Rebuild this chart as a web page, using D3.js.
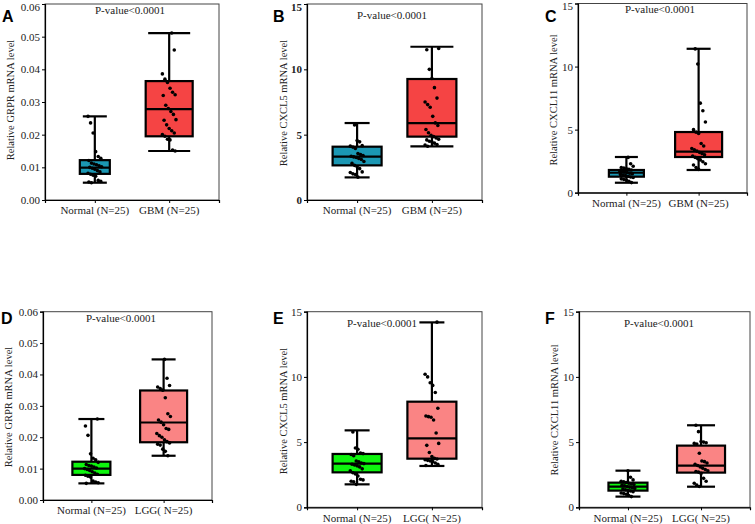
<!DOCTYPE html>
<html><head><meta charset="utf-8">
<script src="https://cdn.jsdelivr.net/npm/d3@7"></script>
<style>body{margin:0;background:#fff}svg{display:block}</style>
</head><body><svg id="c" width="755" height="524"></svg>
<script>
// ---------- data ----------
const panelLetters = ["A","B","C","D","E","F"];
const genes = ["GRPR","CXCL5","CXCL11","GRPR","CXCL5","CXCL11"];
const groupLabelsGBM = ["Normal (N=25)","GBM (N=25)"];
const groupLabelsLGG = ["Normal (N=25)","LGG( N=25)"];
const pValueText = "P-value<0.0001";
const ticksGRPR = [0,0.01,0.02,0.03,0.04,0.05,0.06];
const ticksCXCL = [0,5,10,15];

// box stats: [min, q1, median, q3, max]
const statsA = [[0.0053,0.0080,0.0099,0.0122,0.0256],[0.0150,0.0195,0.0278,0.0364,0.0511]];
const statsB = [[1.73,2.65,3.32,4.08,5.89],[4.11,4.85,5.89,9.26,11.73]];
const statsC = [[0.79,1.27,1.58,1.80,2.83],[1.80,2.83,3.25,4.81,11.41]];
const statsD = [[0.0053,0.0080,0.0100,0.0122,0.0258],[0.0141,0.0184,0.0247,0.0349,0.0448]];
const statsE = [[1.76,2.68,3.35,4.09,5.90],[3.17,3.73,5.29,8.10,14.18]];
const statsF = [[0.82,1.28,1.58,1.89,2.81],[1.58,2.66,3.19,4.73,6.29]];

const ptsA_normal = [0.0256,0.0236,0.0205,0.0148,0.0133,0.0128,0.0121,0.0113,0.0110,0.0108,0.0105,0.0102,0.0100,0.0097,0.0094,0.0090,0.0086,0.0082,0.0079,0.0076,0.0073,0.0060,0.0057,0.0055,0.0053];
const ptsA_tumor = [0.0511,0.0459,0.0386,0.0370,0.0360,0.0342,0.0330,0.0322,0.0320,0.0290,0.0280,0.0271,0.0262,0.0246,0.0244,0.0230,0.0219,0.0212,0.0205,0.0200,0.0195,0.0186,0.0184,0.0153,0.0150];
const ptsB_normal = [5.74,4.55,4.45,4.16,4.12,4.05,3.95,3.55,3.48,3.40,3.35,3.30,3.25,3.18,3.10,2.95,2.80,2.65,2.55,2.40,2.15,2.10,2.00,1.95,1.75];
const ptsB_tumor = [11.6,11.5,10.0,9.3,8.6,7.8,7.5,7.3,7.1,6.4,5.9,5.7,5.4,5.15,4.95,4.85,4.75,4.65,4.6,4.5,4.45,4.35,4.25,4.2,4.11];
const ptsC_normal = [2.8,2.3,2.1,2.0,1.95,1.9,1.85,1.8,1.75,1.7,1.65,1.6,1.55,1.5,1.45,1.4,1.35,1.3,1.25,1.2,1.1,1.05,1.0,0.9,0.8];
const ptsC_tumor = [11.4,10.2,7.1,6.5,5.6,5.0,4.8,4.7,3.9,3.7,3.5,3.4,3.3,3.2,3.1,3.0,2.9,2.8,2.7,2.6,2.45,2.3,2.2,2.0,1.85];
const ptsD_normal = [0.0258,0.0236,0.0206,0.0147,0.0133,0.0128,0.0120,0.0113,0.0110,0.0108,0.0105,0.0102,0.0100,0.0097,0.0094,0.0090,0.0086,0.0082,0.0079,0.0076,0.0073,0.0060,0.0057,0.0055,0.0053];
const ptsD_tumor = [0.0448,0.0388,0.0365,0.0360,0.0355,0.0350,0.0326,0.0275,0.0266,0.0255,0.0248,0.0240,0.0228,0.0225,0.0212,0.0205,0.0200,0.0192,0.0186,0.0182,0.0178,0.0175,0.0162,0.0155,0.0141];
const ptsE_normal = [5.78,4.55,4.45,4.16,4.12,4.05,3.95,3.55,3.48,3.40,3.35,3.30,3.25,3.18,3.10,2.95,2.80,2.65,2.55,2.40,2.15,2.10,2.00,1.95,1.76];
const ptsE_tumor = [14.2,10.2,10.0,9.55,9.35,8.8,7.6,7.0,6.95,6.9,6.7,5.7,4.9,4.75,4.2,3.9,3.75,3.7,3.65,3.6,3.55,3.5,3.4,3.3,3.2];
const ptsF_normal = [2.8,2.3,2.1,2.0,1.95,1.9,1.85,1.8,1.75,1.7,1.65,1.6,1.55,1.5,1.45,1.4,1.35,1.3,1.25,1.2,1.1,1.05,1.0,0.9,0.82];
const ptsF_tumor = [6.29,5.8,5.05,5.0,4.95,4.9,4.85,4.14,3.55,3.5,3.4,3.3,3.2,3.1,3.0,2.9,2.8,2.75,2.7,2.6,2.22,2.0,1.85,1.7,1.6];

// ---------- layout / style ----------
const colNormalGBM = "#1b97b3", colGBM = "#f54444", colNormalLGG = "#0ef50e", colLGG = "#fa8484";
const panels = [
  {stats:statsA, pts:[ptsA_normal,ptsA_tumor], labels:groupLabelsGBM, ticks:ticksGRPR, fmt:".2f", bold:false,
   x0:45,x1:219,y0:4,y1:200, boxW:[30,47], capW:[24,42], cols:[colNormalGBM,colGBM],
   letter:[2,22], ylab:[10,100], pv:[130,14], xlabY:214},
  {stats:statsB, pts:[ptsB_normal,ptsB_tumor], labels:groupLabelsGBM, ticks:ticksCXCL, fmt:"d", bold:true,
   x0:307,x1:482,y0:4,y1:200, boxW:[49,49], capW:[25,43], cols:[colNormalGBM,colGBM],
   letter:[273,22], ylab:[283,103], pv:[392,19], xlabY:214},
  {stats:statsC, pts:[ptsC_normal,ptsC_tumor], labels:groupLabelsGBM, ticks:ticksCXCL, fmt:"d", bold:false,
   x0:578,x1:747,y0:3.5,y1:192.7, boxW:[35,47], capW:[23,24], cols:[colNormalGBM,colGBM],
   letter:[545,22], ylab:[553,100], pv:[660,13], xlabY:207},
  {stats:statsD, pts:[ptsD_normal,ptsD_tumor], labels:groupLabelsLGG, ticks:ticksGRPR, fmt:".2f", bold:false,
   x0:43,x1:212,y0:311.7,y1:500, boxW:[38,47], capW:[26,24], cols:[colNormalLGG,colLGG],
   letter:[1,324], ylab:[8,407], pv:[121,322], xlabY:514},
  {stats:statsE, pts:[ptsE_normal,ptsE_tumor], labels:groupLabelsLGG, ticks:ticksCXCL, fmt:"d", bold:false,
   x0:307,x1:482,y0:311.7,y1:507.3, boxW:[49,49], capW:[25,25], cols:[colNormalLGG,colLGG],
   letter:[273,324], ylab:[283,411], pv:[382,327], xlabY:522},
  {stats:statsF, pts:[ptsF_normal,ptsF_tumor], labels:groupLabelsLGG, ticks:ticksCXCL, fmt:"d", bold:false,
   x0:579,x1:750,y0:311.7,y1:507.3, boxW:[39,48], capW:[25,28], cols:[colNormalLGG,colLGG],
   letter:[545,324], ylab:[554,410], pv:[659,327], xlabY:522}
];

const svg = d3.select("#c");
svg.append("rect").attr("width",755).attr("height",524).attr("fill","#fff");
const serif = "'Liberation Serif','Times New Roman',serif";

panels.forEach((p,pi)=>{
  const g = svg.append("g");
  const y = d3.scaleLinear().domain([p.ticks[0], p.ticks[p.ticks.length-1]]).range([p.y1,p.y0]);
  const x = d3.scalePoint().domain(p.labels).range([p.x0,p.x1]).padding(0.67);

  // frame
  g.append("rect").attr("x",p.x0).attr("y",p.y0).attr("width",p.x1-p.x0).attr("height",p.y1-p.y0)
    .attr("fill","none").attr("stroke","#444").attr("stroke-width",1);

  // y axis
  const ya = g.append("g").attr("transform",`translate(${p.x0},0)`)
    .call(d3.axisLeft(y).tickValues(p.ticks).tickSize(3).tickPadding(2).tickFormat(d3.format(p.fmt)));
  ya.select(".domain").attr("stroke","#000").attr("stroke-width",1.2);
  ya.selectAll("text").attr("font-family",serif).attr("font-size",11).attr("fill","#222")
    .attr("font-weight",p.bold?"bold":"normal");
  // keep the top tick label inside the picture
  ya.selectAll(".tick text").filter(d=>y(d)<8).attr("dy","0.55em");

  // x axis
  const xa = g.append("g").attr("transform",`translate(0,${p.y1})`)
    .call(d3.axisBottom(x).tickSize(3).tickFormat(""));
  xa.select(".domain").attr("stroke","#000").attr("stroke-width",1.2);
  g.selectAll(null).data(p.labels).enter().append("text")
    .attr("x",d=>x(d)).attr("y",p.xlabY).attr("text-anchor","middle")
    .attr("font-family",serif).attr("font-size",11).attr("fill","#222").text(d=>d);

  // boxes
  p.labels.forEach((lab,gi)=>{
    const s = p.stats[gi], cx = x(lab), bw = p.boxW[gi], cw = p.capW[gi];
    const lw = 2.2;
    g.append("line").attr("x1",cx).attr("x2",cx).attr("y1",y(s[4])).attr("y2",y(s[0]))
      .attr("stroke","#000").attr("stroke-width",lw);
    [s[0],s[4]].forEach(v=>g.append("line").attr("x1",cx-cw/2).attr("x2",cx+cw/2)
      .attr("y1",y(v)).attr("y2",y(v)).attr("stroke","#000").attr("stroke-width",lw));
    g.append("rect").attr("x",cx-bw/2).attr("y",y(s[3])).attr("width",bw).attr("height",y(s[1])-y(s[3]))
      .attr("fill",p.cols[gi]).attr("stroke","#000").attr("stroke-width",lw);
    g.append("line").attr("x1",cx-bw/2).attr("x2",cx+bw/2).attr("y1",y(s[2])).attr("y2",y(s[2]))
      .attr("stroke","#000").attr("stroke-width",lw);
    // points with deterministic jitter
    g.selectAll(null).data(p.pts[gi]).enter().append("circle")
      .attr("cx",(d,i)=>cx + (((i*37+gi*11+pi*5)%17)-8)*0.85)
      .attr("cy",d=>y(d)).attr("r",1.8).attr("fill","#000");
  });

  // p-value text
  g.append("text").attr("x",p.pv[0]).attr("y",p.pv[1]).attr("text-anchor","middle")
    .attr("font-family",serif).attr("font-size",11).attr("fill","#222").text(pValueText);

  // y label
  g.append("text").attr("transform",`translate(${p.ylab[0]},${p.ylab[1]}) rotate(-90)`)
    .attr("text-anchor","middle").attr("dominant-baseline","central")
    .attr("font-family",serif).attr("font-size",10.5).attr("fill","#222")
    .text(`Relative ${genes[pi]} mRNA level`);

  // panel letter
  g.append("text").attr("x",p.letter[0]).attr("y",p.letter[1])
    .attr("font-family","'Liberation Sans',Arial,sans-serif").attr("font-weight","bold")
    .attr("font-size",16).attr("fill","#000").text(panelLetters[pi]);
});
</script>
</body></html>
